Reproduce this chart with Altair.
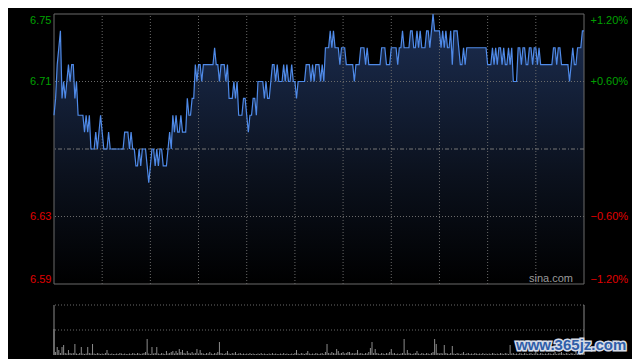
import altair as alt
import pandas as pd

# ---------------- data ----------------
prev_close = 6.67

# 1-minute prices, 09:30-12:00 (151 points)
morning_prices = [
    6.69, 6.70, 6.72, 6.73, 6.74,
    6.70, 6.71, 6.70, 6.71, 6.72,
    6.71, 6.72, 6.72, 6.70, 6.71,
    6.69, 6.69, 6.69, 6.69, 6.68,
    6.69, 6.68, 6.69, 6.67, 6.67,
    6.67, 6.68, 6.67, 6.68, 6.69,
    6.68, 6.67, 6.67, 6.67, 6.68,
    6.67, 6.67, 6.67, 6.67, 6.67,
    6.67, 6.67, 6.67, 6.67, 6.68,
    6.68, 6.68, 6.67, 6.68, 6.67,
    6.67, 6.66, 6.66, 6.67, 6.66,
    6.67, 6.67, 6.67, 6.66, 6.65,
    6.66, 6.67, 6.67, 6.66, 6.67,
    6.66, 6.67, 6.67, 6.66, 6.66,
    6.66, 6.67, 6.68, 6.67, 6.69,
    6.68, 6.69, 6.68, 6.68, 6.69,
    6.68, 6.68, 6.68, 6.70, 6.69,
    6.69, 6.70, 6.70, 6.72, 6.71,
    6.72, 6.72, 6.71, 6.72, 6.72,
    6.72, 6.72, 6.72, 6.72, 6.72,
    6.73, 6.72, 6.72, 6.71, 6.72,
    6.72, 6.72, 6.71, 6.72, 6.70,
    6.70, 6.70, 6.71, 6.70, 6.71,
    6.69, 6.69, 6.69, 6.70, 6.70,
    6.69, 6.68, 6.69, 6.69, 6.70,
    6.70, 6.69, 6.71, 6.71, 6.71,
    6.71, 6.70, 6.71, 6.70, 6.70,
    6.71, 6.72, 6.72, 6.71, 6.72,
    6.71, 6.71, 6.71, 6.72, 6.71,
    6.72, 6.71, 6.71, 6.72, 6.71,
    6.71,
]

# 1-minute prices, 13:01-16:00 (180 points)
afternoon_prices = [
    6.70, 6.71, 6.71, 6.71,
    6.71, 6.71, 6.72, 6.72, 6.72,
    6.71, 6.72, 6.71, 6.72, 6.72,
    6.72, 6.71, 6.72, 6.71, 6.73,
    6.73, 6.73, 6.74, 6.73, 6.74,
    6.73, 6.73, 6.73, 6.72, 6.73,
    6.73, 6.73, 6.72, 6.72, 6.72,
    6.72, 6.72, 6.71, 6.72, 6.72,
    6.72, 6.73, 6.73, 6.73, 6.72,
    6.73, 6.72, 6.72, 6.72, 6.72,
    6.72, 6.72, 6.72, 6.72, 6.73,
    6.73, 6.73, 6.72, 6.72, 6.72,
    6.73, 6.73, 6.73, 6.73, 6.72,
    6.73, 6.73, 6.74, 6.73, 6.73,
    6.73, 6.73, 6.74, 6.74, 6.73,
    6.73, 6.74, 6.73, 6.74, 6.73,
    6.73, 6.73, 6.74, 6.74, 6.73,
    6.74, 6.75, 6.74, 6.74, 6.74,
    6.74, 6.73, 6.74, 6.73, 6.74,
    6.73, 6.73, 6.74, 6.72, 6.74,
    6.74, 6.74, 6.73, 6.72, 6.72,
    6.73, 6.72, 6.73, 6.73, 6.73,
    6.73, 6.73, 6.73, 6.73, 6.73,
    6.73, 6.73, 6.73, 6.73, 6.73,
    6.72, 6.72, 6.72, 6.73, 6.72,
    6.73, 6.72, 6.73, 6.73, 6.72,
    6.73, 6.72, 6.72, 6.73, 6.72,
    6.73, 6.71, 6.71, 6.71, 6.73,
    6.73, 6.72, 6.73, 6.73, 6.72,
    6.72, 6.73, 6.73, 6.72, 6.73,
    6.73, 6.72, 6.73, 6.72, 6.72,
    6.72, 6.72, 6.72, 6.72, 6.72,
    6.72, 6.73, 6.73, 6.72, 6.73,
    6.73, 6.72, 6.72, 6.72, 6.72,
    6.72, 6.71, 6.72, 6.73, 6.72,
    6.72, 6.73, 6.73, 6.73, 6.74, 6.74,
]

# volume per minute (relative units)
morning_volume = [
    52, 6, 16, 10, 4, 16, 20, 4, 3, 10,
    4, 3, 4, 22, 3, 2, 4, 16, 3, 2,
    3, 16, 4, 3, 22, 3, 2, 4, 3, 2,
    3, 2, 4, 10, 3, 2, 3, 2, 2, 3,
    2, 4, 3, 2, 3, 2, 2, 3, 2, 4,
    3, 2, 4, 3, 2, 3, 4, 6, 32, 3,
    2, 16, 3, 4, 16, 3, 2, 4, 3, 2,
    8, 3, 4, 6, 8, 3, 8, 4, 12, 6,
    10, 4, 3, 8, 4, 3, 6, 3, 4, 12,
    3, 10, 4, 3, 2, 4, 3, 6, 3, 2,
    4, 3, 6, 26, 4, 3, 2, 4, 8, 3,
    2, 4, 3, 6, 2, 3, 4, 2, 3, 2,
    3, 2, 4, 2, 3, 2, 2, 3, 2, 4,
    2, 3, 2, 2, 3, 2, 4, 2, 3, 2,
    2, 3, 2, 4, 2, 3, 2, 2, 3, 2, 4,
]
afternoon_volume = [
    10, 3, 2, 4, 3, 2, 4, 8, 3, 2,
    3, 2, 4, 3, 2, 3, 4, 2, 6, 22,
    4, 3, 6, 4, 3, 12, 8, 3, 4, 6,
    3, 4, 6, 6, 3, 4, 3, 4, 10, 3,
    4, 3, 2, 4, 3, 6, 14, 26, 4, 12,
    4, 3, 2, 4, 3, 2, 4, 3, 6, 12,
    3, 4, 2, 3, 2, 3, 4, 32, 3, 10,
    4, 3, 2, 3, 4, 8, 3, 2, 4, 3,
    2, 4, 3, 2, 4, 6, 32, 22, 4, 3,
    4, 3, 20, 4, 3, 2, 4, 18, 3, 2,
    4, 3, 2, 3, 6, 2, 3, 4, 2, 3,
    2, 4, 3, 2, 3, 2, 4, 2, 3, 2,
    3, 2, 4, 3, 2, 3, 2, 4, 3, 2,
    4, 3, 2, 20, 3, 4, 2, 3, 2, 4,
    3, 2, 4, 3, 2, 3, 4, 2, 3, 8,
    3, 2, 4, 3, 2, 3, 2, 4, 3, 2,
    3, 6, 2, 3, 4, 6, 3, 2, 4, 3,
    2, 4, 3, 2, 10, 3, 4, 2, 3, 4,
]

price_ticks = [6.59, 6.63, 6.71, 6.75]
pct_ticks = [-1.2, -0.6, 0.6, 1.2]
dotted_levels = [6.63, 6.71]
half_hour_marks = [30, 60, 90, 120, 150, 180, 210, 240, 270, 300]
price_lo, price_hi = 6.59, 6.75
vol_max = 100
last_minute = 330

# ---------------- tables ----------------
prices = morning_prices + afternoon_prices
volume = morning_volume + afternoon_volume
assert len(prices) == last_minute + 1, len(prices)
assert len(volume) == last_minute + 1, len(volume)
df = pd.DataFrame({"t": list(range(len(prices))), "price": prices, "vol": volume})
grid_v = pd.DataFrame({"t": half_hour_marks, "lo": price_lo, "hi": price_hi})
grid_h = pd.DataFrame({"price": dotted_levels})
base_df = pd.DataFrame({"price": [prev_close]})
frame_df = pd.DataFrame({"t0": [0], "t1": [last_minute], "lo": [price_lo], "hi": [price_hi]})
pct_df = pd.DataFrame({"t": [0] * len(pct_ticks), "pct": pct_ticks})
vol_h = pd.DataFrame({"vol": [vol_max, vol_max / 2]})
vol_v = pd.DataFrame({"t": [0, last_minute], "lo": [0, 0], "hi": [vol_max, vol_max]})

# ---------------- styling ----------------
GREEN = "#00a000"
RED = "#e00000"
GRID = "#6a6a6a"
FONT = "Liberation Sans"

x_enc = alt.X("t:Q", scale=alt.Scale(domain=[0, last_minute], nice=False, zero=False), axis=None)
x0_enc = alt.X("t0:Q", scale=alt.Scale(domain=[0, last_minute], nice=False, zero=False), axis=None)
price_scale = alt.Scale(domain=[price_lo, price_hi], range=[270, 0], nice=False, zero=False)
vol_scale = alt.Scale(domain=[0, vol_max], range=[341, 291], nice=False, zero=False)

left_axis = alt.Axis(
    orient="left", values=price_ticks, format=".2f", title=None, grid=False,
    domain=False, ticks=False, tickSize=0, labelPadding=3, labelFlush=True,
    labelFont=FONT, labelFontSize=11,
    labelColor={"condition": {"test": f"datum.value > {prev_close}", "value": GREEN}, "value": RED},
)
right_axis = alt.Axis(
    orient="right", values=pct_ticks, title=None, grid=False,
    domain=False, ticks=False, tickSize=0, labelPadding=6, labelFlush=True,
    labelFont=FONT, labelFontSize=11,
    labelExpr="(datum.value > 0 ? '+' : '') + format(datum.value, '.2f') + '%'",
    labelColor={"condition": {"test": "datum.value > 0", "value": GREEN}, "value": RED},
)

y_price = alt.Y("price:Q", scale=price_scale, axis=left_axis)

fill_gradient = alt.Gradient(
    gradient="linear",
    stops=[alt.GradientStop(color="#1c2e52", offset=0),
           alt.GradientStop(color="#0b111d", offset=0.6),
           alt.GradientStop(color="#000000", offset=1)],
    x1=1, x2=1, y1=0, y2=1,
)

area = alt.Chart(df).mark_area(color=fill_gradient).encode(
    x=x_enc, y=y_price, y2=alt.datum(price_lo)
)
vgrid = alt.Chart(grid_v).mark_rule(color=GRID, strokeDash=[1, 2], strokeWidth=1).encode(
    x=x_enc, y=alt.Y("lo:Q", scale=price_scale, axis=left_axis), y2="hi:Q"
)
hgrid = alt.Chart(grid_h).mark_rule(color=GRID, strokeDash=[1, 2], strokeWidth=1).encode(
    y=y_price
)
baseline = alt.Chart(base_df).mark_rule(color="#777777", strokeDash=[4, 2, 1, 2], strokeWidth=1).encode(
    y=y_price
)
frame = alt.Chart(frame_df).mark_rect(fillOpacity=0, stroke="#6a6a6a", strokeWidth=1).encode(
    x=x0_enc, x2="t1:Q", y=alt.Y("lo:Q", scale=price_scale, axis=left_axis), y2="hi:Q"
)
line = alt.Chart(df).mark_line(color="#4f8ae8", strokeWidth=1.2).encode(
    x=x_enc, y=y_price
)
sina = alt.Chart(base_df).mark_text(
    text="sina.com", font=FONT, fontSize=11, color="#9a9a9a", align="right", baseline="alphabetic"
).encode(x=alt.value(519), y=alt.value(268))

price_layer = alt.layer(area, vgrid, hgrid, baseline, frame, line, sina)

pct_layer = alt.Chart(pct_df).mark_point(opacity=0).encode(
    x=x_enc,
    y=alt.Y("pct:Q", scale=alt.Scale(domain=[-1.2, 1.2], range=[270, 0], nice=False, zero=False), axis=right_axis),
)

vol_bars = alt.Chart(df).mark_rule(color="#8c8c8c", strokeWidth=1).encode(
    x=x_enc, y=alt.Y("vol:Q", scale=vol_scale, axis=None), y2=alt.datum(0)
)
vol_lines = alt.Chart(vol_h).mark_rule(color=GRID, strokeDash=[1, 2], strokeWidth=1).encode(
    y=alt.Y("vol:Q", scale=vol_scale, axis=None)
)
vol_sides = alt.Chart(vol_v).mark_rule(color="#8a8a8a", strokeWidth=1).encode(
    x=x_enc, y=alt.Y("lo:Q", scale=vol_scale, axis=None), y2="hi:Q"
)
wm_halo = alt.Chart(base_df).mark_text(
    text="www.365jz.com", font=FONT, fontSize=15, fontWeight="bold", fill="#d6dce8",
    stroke="#d6dce8", strokeWidth=3, align="left", baseline="alphabetic"
).encode(x=alt.value(462), y=alt.value(336))
wm_text = alt.Chart(base_df).mark_text(
    text="www.365jz.com", font=FONT, fontSize=15, fontWeight="bold", fill="#2f5ea8",
    align="left", baseline="alphabetic"
).encode(x=alt.value(462), y=alt.value(336))

vol_layer = alt.layer(vol_lines, vol_sides, vol_bars, wm_halo, wm_text)

chart = alt.layer(price_layer, pct_layer, vol_layer).resolve_scale(y="independent").properties(
    width=530,
    height=341,
    background="#000000",
    padding={"left": 46, "top": 6, "right": 48, "bottom": 4},
    autosize=alt.AutoSizeParams(type="none"),
).configure_view(stroke=None)

chart.save("out.html", embed_options={"renderer": "svg", "actions": False})
